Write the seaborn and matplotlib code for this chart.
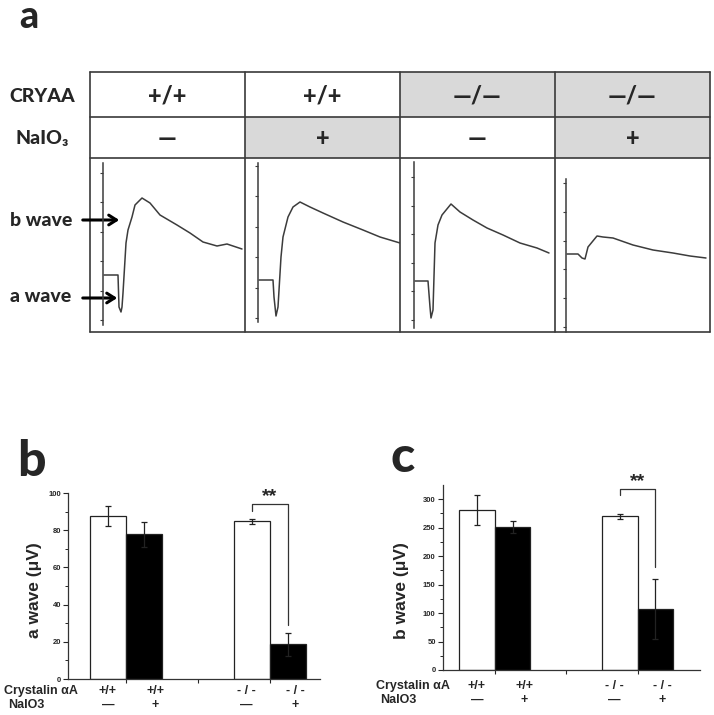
import matplotlib
matplotlib.use("Agg")
import matplotlib.pyplot as plt
import matplotlib.transforms as mtransforms
import numpy as np
import pandas as pd
import seaborn as sns

# ---- panel a: header table ----
genotype_cols = ["+/+", "+/+", "—/—", "—/—"]
naio3_cols = ["—", "+", "—", "+"]

# ---- panel a: ERG traces (time units, amplitude units) ----
trace1_t = [14, 28, 29, 31, 32, 33, 36, 38, 42, 45, 52, 60, 70, 87, 100, 113, 127, 137, 152]
trace1_v = [57, 57, 25, 20, 25, 39, 89, 102, 115, 127, 134, 129, 117, 107, 99, 90, 86, 88, 83]
trace2_t = [14, 28, 29, 31, 33, 36, 38, 43, 48, 55, 65, 78, 98, 118, 135, 155]
trace2_v = [52, 52, 35, 16, 25, 75, 95, 115, 125, 130, 125, 119, 110, 102, 95, 89]
trace3_t = [15, 28, 30, 31, 33, 35, 38, 42, 51, 60, 73, 87, 103, 120, 137, 149]
trace3_v = [51, 51, 25, 14, 22, 89, 107, 117, 128, 120, 112, 104, 97, 89, 84, 79]
trace4_t = [12, 23, 27, 30, 33, 42, 48, 58, 78, 98, 118, 135, 151]
trace4_v = [78, 78, 74, 73, 85, 96, 95, 94, 87, 82, 79, 76, 74]

# ---- panels b and c: bar data ----
bar_pos = [0, 1, 4, 5]
bar_geno = ["+/+", "+/+", "- / -", "- / -"]
bar_trt = ["—", "+", "—", "+"]
a_wave_mean = [87.6, 77.7, 84.7, 18.7]
a_wave_err = [5.6, 6.5, 1.3, 6.2]
b_wave_mean = [281, 251, 270, 107]
b_wave_err = [27, 10, 4.5, 53]

W, H = 714, 715
sns.set_style("ticks")
plt.rcParams["font.family"] = ["Liberation Sans", "DejaVu Sans"]
LATO = ["Lato", "DejaVu Sans"]


def px_box(left, top, right, bottom):
    return [left / W, (H - bottom) / H, (right - left) / W, (bottom - top) / H]


fig = plt.figure(figsize=(W / 100, H / 100), dpi=100)

# overlay in pixel coordinates for table grid and free text
ov = fig.add_axes([0, 0, 1, 1])
ov.set_xlim(0, W)
ov.set_ylim(H, 0)
ov.axis("off")

col_edges = [90, 245, 400, 555, 710]
row_edges = [72, 117, 158, 332]
grid_col = "#3a3a3a"

# gray shaded header cells
for i in range(4):
    if genotype_cols[i] != "+/+":
        ov.add_patch(plt.Rectangle((col_edges[i], row_edges[0]), col_edges[i + 1] - col_edges[i],
                                   row_edges[1] - row_edges[0], color="#d9d9d9", lw=0))
    if naio3_cols[i] == "+":
        ov.add_patch(plt.Rectangle((col_edges[i], row_edges[1]), col_edges[i + 1] - col_edges[i],
                                   row_edges[2] - row_edges[1], color="#d9d9d9", lw=0))
for x in col_edges:
    ov.plot([x, x], [row_edges[0], row_edges[-1]], color=grid_col, lw=1.2)
for y in row_edges:
    ov.plot([col_edges[0], col_edges[-1]], [y, y], color=grid_col, lw=1.2)

for i in range(4):
    cx = (col_edges[i] + col_edges[i + 1]) / 2
    ov.text(cx, 96, genotype_cols[i], ha="center", va="center", fontsize=17, fontweight="black", family=LATO)
    ov.text(cx, 138, naio3_cols[i], ha="center", va="center", fontsize=17, fontweight="black", family=LATO)

ov.text(42, 96, "CRYAA", ha="center", va="center", fontsize=14, fontweight="black", family=LATO)
ov.text(42, 138, "NaIO₃", ha="center", va="center", fontsize=14, fontweight="black", family=LATO)
ov.text(19, 28, "a", ha="left", va="baseline", fontsize=27, fontweight="black", family=LATO)
ov.text(17, 476, "b", ha="left", va="baseline", fontsize=36, fontweight="black", family=LATO)
ov.text(391, 472, "c", ha="left", va="baseline", fontsize=36, fontweight="black", family=LATO)

ov.text(41, 220, "b wave", ha="center", va="center", fontsize=14, fontweight="black", family=LATO)
ov.text(41, 297, "a wave", ha="center", va="center", fontsize=14, fontweight="black", family=LATO)
for y, x_end in [(220, 122), (298, 120)]:
    ov.annotate("", xy=(x_end, y), xytext=(80, y),
                arrowprops=dict(arrowstyle="->,head_length=0.55,head_width=0.35", lw=2.2, color="black"))

# ERG traces
traces = [(trace1_t, trace1_v), (trace2_t, trace2_v), (trace3_t, trace3_v), (trace4_t, trace4_v)]
axis_offset = [13, 13, 14, 11]
axis_bounds = [(7, 169), (10, 169), (4, 170), (0, 153)]
tick_start = [12, 14, 12, 5]
tick_step = [29.4, 30.4, 28.6, 28.8]
for i, (t, v) in enumerate(traces):
    tax = fig.add_axes(px_box(col_edges[i], row_edges[2], col_edges[i + 1], row_edges[3]))
    tax.patch.set_alpha(0)
    sns.lineplot(x=t, y=v, ax=tax, color="#3c3c3c", lw=1.1, sort=False, estimator=None)
    tax.set_xlim(0, 155)
    tax.set_ylim(0, 174)
    for s in ["top", "right", "bottom"]:
        tax.spines[s].set_visible(False)
    tax.spines["left"].set_position(("data", axis_offset[i]))
    tax.spines["left"].set_bounds(*axis_bounds[i])
    tax.spines["left"].set_color("#3c3c3c")
    tax.spines["left"].set_linewidth(1.1)
    tax.set_xticks([])
    tax.set_yticks(tick_start[i] + tick_step[i] * np.arange(6))
    tax.set_yticklabels([])
    tax.tick_params(axis="y", direction="out", length=2.5, width=0.8, color="#3c3c3c")


def bar_panel(box, means, errs, ymax, major, minor, ylabel, label_xy, xlim, bracket, rows_y):
    ax = fig.add_axes(px_box(*box))
    df = pd.DataFrame({"pos": bar_pos, "mean": means, "NaIO3": bar_trt})
    sns.barplot(data=df, x="pos", y="mean", hue="NaIO3", palette={"—": "white", "+": "black"},
                native_scale=True, width=1, edgecolor="#222222", linewidth=0.9,
                errorbar=None, legend=False, ax=ax)
    ax.errorbar(bar_pos, means, yerr=errs, fmt="none", ecolor="#222222", elinewidth=0.9,
                capsize=2, capthick=0.9, zorder=3)
    x3, x4 = bar_pos[2], bar_pos[3]
    lb, top, rb, star_y = bracket
    ax.plot([x3, x3, x4, x4], [lb, top, top, rb], color="#333333", lw=0.9, clip_on=False)
    ax.text((x3 + x4) / 2, star_y, "**", ha="center", va="center", fontsize=14, fontweight="bold")
    ax.set_xlim(*xlim)
    ax.set_ylim(0, ymax)
    ax.set_yticks(np.arange(0, ymax + 1, major))
    ax.set_yticks(np.arange(minor, ymax, minor), minor=True)
    ax.set_xticks([0.5, 2.5, 4.5])
    ax.set_xticklabels([])
    ax.set_xlabel("")
    ax.tick_params(axis="y", which="major", direction="out", length=3.5, width=0.8, labelsize=5.5, pad=1.5)
    ax.tick_params(axis="y", which="minor", direction="out", length=2, width=0.7)
    ax.tick_params(axis="x", direction="out", length=3, width=0.8)
    for lbl in ax.get_yticklabels():
        lbl.set_fontweight("bold")
    sns.despine(ax=ax)
    for s in ["left", "bottom"]:
        ax.spines[s].set_linewidth(0.9)
        ax.spines[s].set_color("#333333")
    ax.set_ylabel(ylabel, fontsize=12.5, fontweight="bold")
    ax.yaxis.set_label_coords(*label_xy)
    trans = mtransforms.blended_transform_factory(ax.transData, ax.transAxes)
    shift = [0.0, 0.32, -0.15, 0.2]
    for p, g, tr, d in zip(bar_pos, bar_geno, bar_trt, shift):
        ax.text(p + d, rows_y[0], g, transform=trans, ha="center", va="center", fontsize=9, fontweight="bold")
        ax.text(p + d, rows_y[1], tr, transform=trans, ha="center", va="center", fontsize=9, fontweight="bold")
    return ax


bar_panel((68, 493, 320, 679), a_wave_mean, a_wave_err, 100, 20, 10, "a wave (μV)",
          (-0.104, 0.48), (-1.11, 5.89), (90.1, 94.1, 29.1, 98), (-0.065, -0.14))
bar_panel((442.7, 485, 700, 670), b_wave_mean, b_wave_err, 325, 50, 25, "b wave (μV)",
          (-0.13, 0.43), (-0.96, 6.25), (307.5, 318, 181.6, 331), (-0.086, -0.162))

for x, y in [(4, 691), (376, 686)]:
    ov.text(x, y, "Crystalin αA", ha="left", va="center", fontsize=9, fontweight="bold")
    ov.text(x + 4, y + 14, "NaIO3", ha="left", va="center", fontsize=9, fontweight="bold")

fig.savefig("out.png", dpi=100)
